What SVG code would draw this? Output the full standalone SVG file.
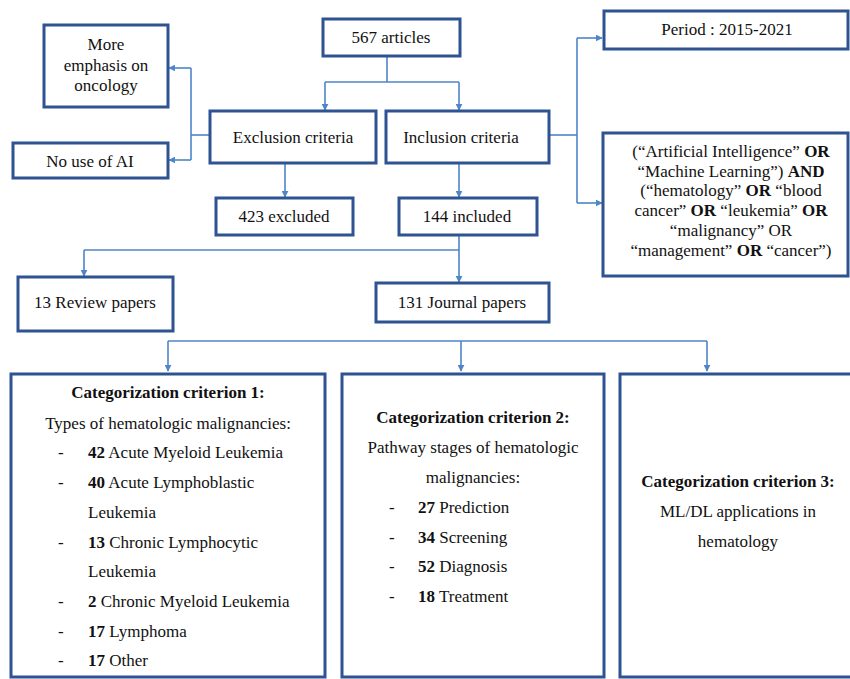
<svg xmlns="http://www.w3.org/2000/svg" width="850" height="679" viewBox="0 0 850 679">
  <style>
    .box { fill: #ffffff; stroke: #2f5391; stroke-width: 3; }
    .t { font-size: 17px; fill: #111111; }
    .c { text-anchor: middle; }
    .b { font-weight: bold; }
    .wire { fill: none; stroke: #4f85c9; stroke-width: 1.6; }
  </style>
  <defs>
    <marker id="arr" viewBox="0 0 10 10" refX="9" refY="5" markerWidth="7" markerHeight="7" markerUnits="userSpaceOnUse" orient="auto">
      <path d="M0,0 L10,5 L0,10 Z" fill="#4f85c9"/>
    </marker>
  </defs>

  <rect width="850" height="679" fill="#ffffff"/>

  <g id="connectors">
    <!-- 567 articles split -->
    <path class="wire" d="M387,56 V82"/>
    <path class="wire" d="M325,82 H459"/>
    <path class="wire" d="M325,82 V110" marker-end="url(#arr)"/>
    <path class="wire" d="M459,82 V110" marker-end="url(#arr)"/>
    <!-- exclusion reasons -->
    <path class="wire" d="M210,135 H191"/>
    <path class="wire" d="M191,68 V160"/>
    <path class="wire" d="M191,68 H169" marker-end="url(#arr)"/>
    <path class="wire" d="M191,160 H169" marker-end="url(#arr)"/>
    <path class="wire" d="M285,163 V197" marker-end="url(#arr)"/>
    <!-- inclusion terms -->
    <path class="wire" d="M549,135 H577"/>
    <path class="wire" d="M577,38 V203"/>
    <path class="wire" d="M577,38 H602" marker-end="url(#arr)"/>
    <path class="wire" d="M577,203 H602" marker-end="url(#arr)"/>
    <path class="wire" d="M459,163 V197" marker-end="url(#arr)"/>
    <!-- included split -->
    <path class="wire" d="M459,235 V282" marker-end="url(#arr)"/>
    <path class="wire" d="M84,250 H459"/>
    <path class="wire" d="M84,250 V276" marker-end="url(#arr)"/>
    <!-- categorization -->
    <path class="wire" d="M168,341 H707"/>
    <path class="wire" d="M168,341 V371" marker-end="url(#arr)"/>
    <path class="wire" d="M461,341 V371" marker-end="url(#arr)"/>
    <path class="wire" d="M707,341 V371" marker-end="url(#arr)"/>
  </g>

  <g font-family="Liberation Serif">
  <g id="articles">
    <rect class="box" x="323" y="19" width="137" height="37"/>
    <text class="t c" x="391" y="43">567 articles</text>
  </g>

  <g id="oncology">
    <rect class="box" x="44" y="25" width="124" height="82"/>
    <text class="t c" x="106" y="50">More</text>
    <text class="t c" x="106" y="71">emphasis on</text>
    <text class="t c" x="106" y="91">oncology</text>
  </g>

  <g id="no-ai">
    <rect class="box" x="13" y="143" width="155" height="35"/>
    <text class="t c" x="90" y="167">No use of AI</text>
  </g>

  <g id="exclusion">
    <rect class="box" x="210" y="111" width="166" height="52"/>
    <text class="t c" x="293" y="143">Exclusion criteria</text>
  </g>

  <g id="inclusion">
    <rect class="box" x="386" y="111" width="163" height="52"/>
    <text class="t c" x="461" y="143">Inclusion criteria</text>
  </g>

  <g id="excluded">
    <rect class="box" x="216" y="198" width="137" height="37"/>
    <text class="t c" x="284" y="222">423 excluded</text>
  </g>

  <g id="included">
    <rect class="box" x="399" y="198" width="138" height="37"/>
    <text class="t c" x="467" y="222">144 included</text>
  </g>

  <g id="period">
    <rect class="box" x="604" y="11" width="244" height="38"/>
    <text class="t c" x="727" y="35">Period : 2015-2021</text>
  </g>

  <g id="query">
    <rect class="box" x="603" y="133" width="245" height="143"/>
    <text class="t c" x="731" y="157">(“Artificial Intelligence” <tspan class="b">OR</tspan></text>
    <text class="t c" x="731" y="177">“Machine Learning”) <tspan class="b">AND</tspan></text>
    <text class="t c" x="731" y="196">(“hematology” <tspan class="b">OR</tspan> “blood</text>
    <text class="t c" x="731" y="216">cancer” <tspan class="b">OR</tspan> “leukemia” <tspan class="b">OR</tspan></text>
    <text class="t c" x="731" y="236">“malignancy” OR</text>
    <text class="t c" x="731" y="256">“management” <tspan class="b">OR</tspan> “cancer”)</text>
  </g>

  <g id="review">
    <rect class="box" x="18" y="277" width="155" height="54"/>
    <text class="t c" x="95" y="308">13 Review papers</text>
  </g>

  <g id="journal">
    <rect class="box" x="376" y="283" width="173" height="39"/>
    <text class="t c" x="462" y="308">131 Journal papers</text>
  </g>

  <g id="criterion-1">
    <rect class="box" x="11" y="374" width="314" height="303"/>
    <text class="t c b" x="168" y="398">Categorization criterion 1:</text>
    <text class="t c" x="168" y="429">Types of hematologic malignancies:</text>
    <text class="t" x="58" y="458">-</text>
    <text class="t" x="88" y="458"><tspan class="b">42</tspan> Acute Myeloid Leukemia</text>
    <text class="t" x="58" y="488">-</text>
    <text class="t" x="88" y="488"><tspan class="b">40</tspan> Acute Lymphoblastic</text>
    <text class="t" x="88" y="518">Leukemia</text>
    <text class="t" x="58" y="548">-</text>
    <text class="t" x="88" y="548"><tspan class="b">13</tspan> Chronic Lymphocytic</text>
    <text class="t" x="88" y="577">Leukemia</text>
    <text class="t" x="58" y="607">-</text>
    <text class="t" x="88" y="607"><tspan class="b">2</tspan> Chronic Myeloid Leukemia</text>
    <text class="t" x="58" y="637">-</text>
    <text class="t" x="88" y="637"><tspan class="b">17</tspan> Lymphoma</text>
    <text class="t" x="58" y="666">-</text>
    <text class="t" x="88" y="666"><tspan class="b">17</tspan> Other</text>
  </g>

  <g id="criterion-2">
    <rect class="box" x="342" y="374" width="262" height="303"/>
    <text class="t c b" x="473" y="423">Categorization criterion 2:</text>
    <text class="t c" x="473" y="453">Pathway stages of hematologic</text>
    <text class="t c" x="473" y="483">malignancies:</text>
    <text class="t" x="389" y="513">-</text>
    <text class="t" x="418" y="513"><tspan class="b">27</tspan> Prediction</text>
    <text class="t" x="389" y="543">-</text>
    <text class="t" x="418" y="543"><tspan class="b">34</tspan> Screening</text>
    <text class="t" x="389" y="572">-</text>
    <text class="t" x="418" y="572"><tspan class="b">52</tspan> Diagnosis</text>
    <text class="t" x="389" y="602">-</text>
    <text class="t" x="418" y="602"><tspan class="b">18</tspan> Treatment</text>
  </g>

  <g id="criterion-3">
    <rect class="box" x="620" y="374" width="240" height="303"/>
    <text class="t c b" x="738" y="487">Categorization criterion 3:</text>
    <text class="t c" x="738" y="517">ML/DL applications in</text>
    <text class="t c" x="738" y="547">hematology</text>
  </g>
  </g>
</svg>
